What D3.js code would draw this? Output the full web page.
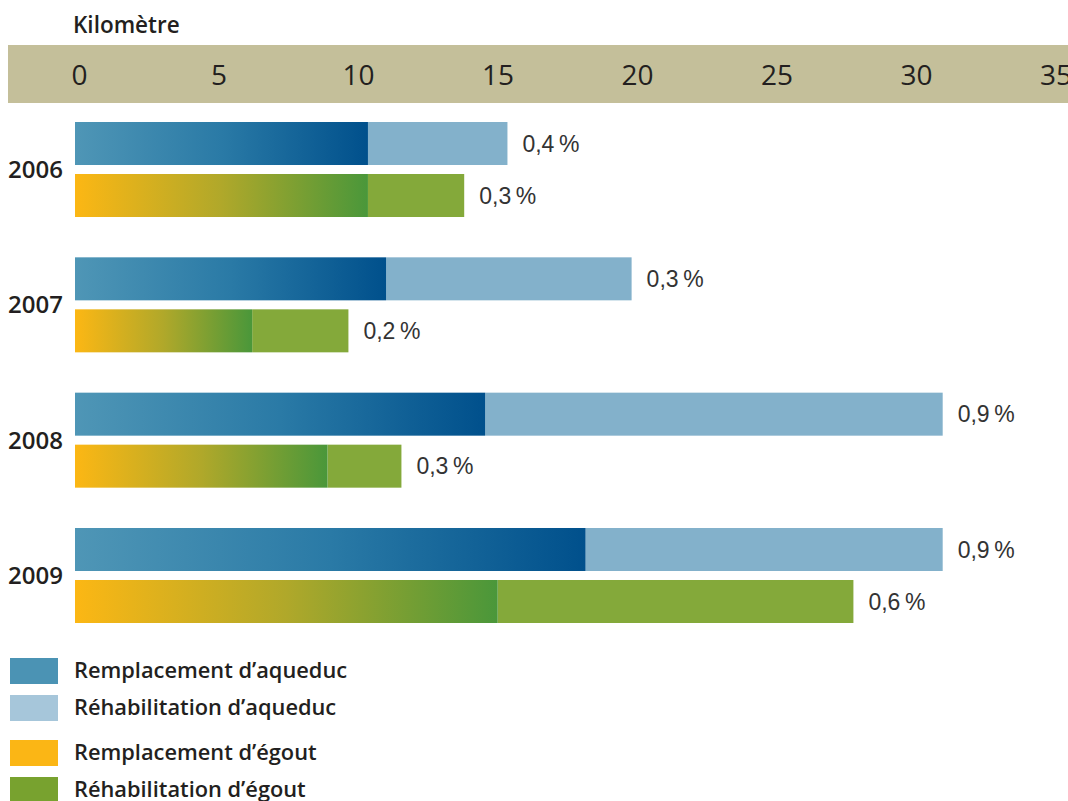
<!DOCTYPE html>
<html>
<head>
<meta charset="utf-8">
<script src="https://cdn.jsdelivr.net/npm/d3@7"></script>
<style>
  body { margin: 0; background: #fff; }
  svg { display: block; }
  .tick text { font-family: "Open Sans", sans-serif; font-weight: 500; font-size: 28px; fill: #231f20; }
  .year { font-family: "Open Sans", sans-serif; font-weight: 600; font-size: 24px; fill: #231f20; }
  .pct { font-family: "Liberation Sans Narrow", "Liberation Sans", sans-serif; font-size: 23px; fill: #333; }
  .legend text { font-family: "Open Sans", sans-serif; font-weight: 600; font-size: 21.8px; fill: #231f20; }
</style>
</head>
<body>
<div id="chart"></div>
<script>
// data (km)
var years = ["2006", "2007", "2008", "2009"];
var aqueducReplacement = [10.5, 11.15, 14.7, 18.3];
var aqueducRehab = [5.0, 8.8, 16.4, 12.8];
var egoutReplacement = [10.5, 6.35, 9.05, 15.15];
var egoutRehab = [3.45, 3.45, 2.65, 12.75];
var aqueducPct = ["0,4\u2009%", "0,3\u2009%", "0,9\u2009%", "0,9\u2009%"];
var egoutPct = ["0,3\u2009%", "0,2\u2009%", "0,3\u2009%", "0,6\u2009%"];
var tickValues = [0, 5, 10, 15, 20, 25, 30, 35];
var legendLabels = ["Remplacement d\u2019aqueduc", "R\u00e9habilitation d\u2019aqueduc",
                    "Remplacement d\u2019\u00e9gout", "R\u00e9habilitation d\u2019\u00e9gout"];

var width = 1068, height = 801;

var svg = d3.select("#chart")
  .append("svg")
  .attr("width", width)
  .attr("height", height);

var defs = svg.append("defs");

function gradient(id, stops) {
  var g = defs.append("linearGradient")
    .attr("id", id)
    .attr("x1", "0%").attr("x2", "100%")
    .attr("y1", "0%").attr("y2", "0%");
  stops.forEach(function(s) {
    g.append("stop").attr("offset", s[0]).attr("stop-color", s[1]);
  });
}
gradient("gradAq", [["0%", "#4f96b6"], ["50%", "#2a7aa6"], ["100%", "#00508c"]]);
gradient("gradEg", [["0%", "#fcb714"], ["50%", "#b0a82a"], ["100%", "#4a973a"]]);

var x = d3.scaleLinear()
  .domain([0, 35])
  .range([75, 75 + 27.9 * 35]);

var y = d3.scaleBand()
  .domain(years)
  .range([122, 623])
  .paddingInner(0.298)
  .paddingOuter(0);

var ySub = d3.scaleBand()
  .domain(["aq", "eg"])
  .range([0, y.bandwidth()])
  .paddingInner(0.173)
  .paddingOuter(0);

// axis band
svg.append("rect")
  .attr("x", 8)
  .attr("y", 45)
  .attr("width", width - 8)
  .attr("height", 58)
  .attr("fill", "#c4bf9a");

svg.append("text")
  .attr("x", 73)
  .attr("y", 33)
  .attr("class", "year")
  .style("font-size", "22.5px")
  .text("Kilom\u00e8tre");

var axis = svg.append("g")
  .attr("transform", "translate(4,75)")
  .call(d3.axisTop(x).tickValues(tickValues).tickSize(0).tickPadding(0).tickFormat(d3.format("d")));
axis.select(".domain").remove();
axis.selectAll(".tick text").attr("dy", "0.35em");

// bars
var rows = years.map(function(yr, i) {
  return [
    { year: yr, key: "aq", rep: aqueducReplacement[i], rehab: aqueducRehab[i], pct: aqueducPct[i] },
    { year: yr, key: "eg", rep: egoutReplacement[i], rehab: egoutRehab[i], pct: egoutPct[i] }
  ];
}).flat();

var bh = ySub.bandwidth();

var bar = svg.selectAll(".bar")
  .data(rows)
  .enter()
  .append("g")
  .attr("class", "bar")
  .attr("transform", d => "translate(0," + (y(d.year) + ySub(d.key)) + ")");

bar.append("rect")
  .attr("x", d => x(d.rep))
  .attr("y", 0)
  .attr("width", d => x(d.rep + d.rehab) - x(d.rep))
  .attr("height", bh)
  .attr("fill", d => d.key == "aq" ? "#83b1cb" : "#84a93a");

bar.append("rect")
  .attr("x", x(0))
  .attr("y", 0)
  .attr("width", d => x(d.rep) - x(0))
  .attr("height", bh)
  .attr("fill", d => d.key == "aq" ? "url(#gradAq)" : "url(#gradEg)");

bar.append("text")
  .attr("class", "pct")
  .attr("x", d => x(d.rep + d.rehab) + 15)
  .attr("y", bh / 2)
  .attr("dy", "0.36em")
  .text(d => d.pct);

// year labels
svg.selectAll(".yearLabel")
  .data(years)
  .enter()
  .append("text")
  .attr("class", "year")
  .attr("x", 8)
  .attr("y", d => y(d) + y.bandwidth() / 2)
  .attr("dy", "0.36em")
  .text(d => d);

// legend
var legendColors = ["#4b93b4", "#a6c6da", "#fbb615", "#78a22f"];
var legendY = [658, 695, 740, 777];
var legend = svg.selectAll(".legend")
  .data(legendLabels)
  .enter()
  .append("g")
  .attr("class", "legend")
  .attr("transform", (d, i) => "translate(10," + legendY[i] + ")");

legend.append("rect")
  .attr("width", 48)
  .attr("height", 26)
  .attr("fill", (d, i) => legendColors[i]);

legend.append("text")
  .attr("x", 64)
  .attr("y", 12)
  .attr("dy", "0.36em")
  .text(d => d);
</script>
</body>
</html>
